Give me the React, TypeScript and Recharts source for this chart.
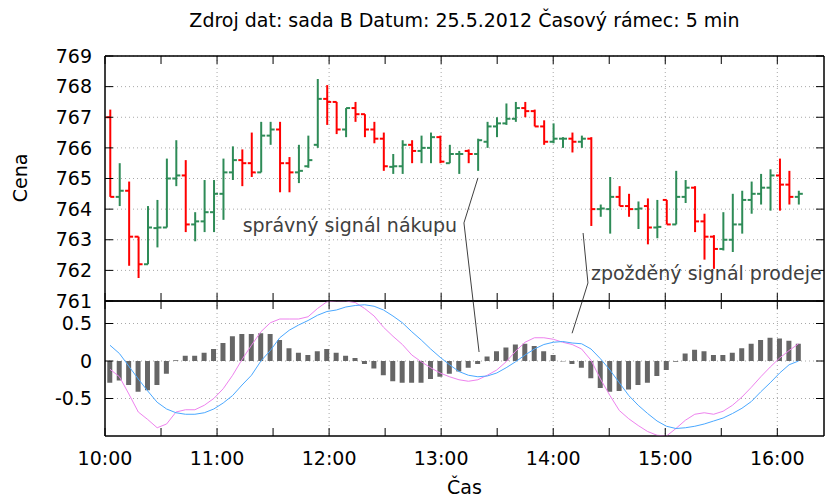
import React from 'react'
import { ComposedChart, Bar, Line, XAxis, YAxis, CartesianGrid, ReferenceLine, ReferenceDot, ReferenceArea } from 'recharts'

const FONT = '"DejaVu Sans", sans-serif'
const FS = 19
const W = 826

// 5 min bars from 10:00
const open = [
  767.0, 764.4, 764.6, 763.1, 762.2, 763.38, 763.4, 765.0, 765.1, 763.5, 763.6, 763.9, 764.5, 765.2, 765.6, 765.5, 765.2, 766.4, 766.6,
  765.5, 765.2, 765.4, 766.1, 767.6, 767.5, 766.6, 767.3, 767.1, 766.6, 766.3, 765.38, 765.4, 766.1, 765.9, 766.0, 766.35, 765.5,
  765.8, 765.9, 765.8, 766.2, 766.7, 766.8, 766.95, 767.3, 767.2, 766.7, 766.2, 766.3, 766.3, 766.2, 766.3, 764.0, 764.0, 764.4,
  764.1, 764.0, 764.1, 763.4, 764.3, 763.5, 764.4, 764.7, 763.6, 763.1, 762.7, 763.0, 763.5, 764.3, 764.5, 764.7, 765.1, 764.8, 764.4,
]
const high = [
  767.25, 765.5, 764.9, 763.1, 764.1, 764.3, 765.65, 766.25, 765.6, 763.9, 764.95, 764.95, 765.65, 766.05, 765.95, 766.5, 766.85, 766.85, 766.85,
  765.7, 766.1, 766.4, 768.25, 768.05, 767.5, 767.3, 767.5, 767.1, 766.85, 766.5, 765.8, 766.25, 766.25, 766.4, 766.5, 766.4, 766.1,
  765.9, 765.95, 766.3, 766.85, 767.0, 767.45, 767.5, 767.5, 767.25, 766.9, 766.8, 766.35, 766.5, 766.4, 766.35, 764.15, 765.05, 764.75,
  764.5, 764.25, 764.35, 764.3, 764.3, 765.25, 764.95, 764.75, 763.85, 763.15, 763.9, 764.5, 764.6, 764.9, 765.15, 765.3, 765.65, 765.25, 764.6,
]
const low = [
  764.4, 764.1, 762.15, 761.75, 762.2, 762.75, 763.4, 764.75, 763.25, 762.95, 763.25, 763.25, 763.65, 764.95, 764.75, 765.05, 765.2, 766.1, 764.55,
  764.55, 764.85, 765.35, 766.0, 766.75, 766.45, 766.35, 766.85, 766.35, 766.15, 765.25, 765.15, 765.15, 765.5, 765.5, 765.5, 765.5, 765.5,
  765.15, 765.5, 765.25, 766.0, 766.35, 766.75, 766.85, 767.0, 766.7, 766.1, 766.15, 766.0, 765.85, 766.0, 763.45, 763.75, 763.2, 764.1,
  763.75, 763.35, 762.85, 763.05, 763.5, 763.5, 764.2, 763.25, 762.35, 762.05, 762.65, 762.6, 763.2, 763.85, 764.15, 763.95, 763.95, 764.15, 764.15,
]
const close = [
  764.4, 764.6, 763.1, 762.2, 763.4, 763.4, 765.0, 765.1, 763.5, 763.6, 763.9, 764.5, 765.2, 765.6, 765.5, 765.2, 766.4, 766.6, 765.5,
  765.2, 765.25, 765.6, 767.6, 767.5, 766.6, 767.3, 767.1, 766.6, 766.3, 765.4, 765.4, 766.1, 765.9, 766.0, 766.35, 765.55, 765.8,
  765.8, 765.8, 766.25, 766.7, 766.8, 766.95, 767.3, 767.2, 766.7, 766.2, 766.3, 766.3, 766.2, 766.3, 764.0, 764.02, 764.4, 764.1,
  764.0, 764.02, 763.4, 763.42, 763.5, 764.4, 764.7, 763.6, 763.1, 762.7, 763.0, 763.5, 764.3, 764.5, 764.7, 765.1, 764.8, 764.4, 764.5,
]

// oscillator panel
const hist = [
  -0.29, -0.26, -0.32, -0.41, -0.39, -0.32, -0.17, 0.01, 0.07, 0.07, 0.11, 0.16, 0.24, 0.33, 0.36, 0.36, 0.37, 0.36, 0.28, 0.17, 0.11, 0.08, 0.13, 0.16,
  0.11, 0.07, 0.04, -0.04, -0.1, -0.19, -0.27, -0.29, -0.29, -0.29, -0.24, -0.21, -0.17, -0.14, -0.09, -0.04, 0.06, 0.13, 0.18, 0.22, 0.23, 0.2, 0.13, 0.08, -0.005,
  -0.04, -0.09, -0.23, -0.36, -0.41, -0.4, -0.38, -0.32, -0.29, -0.2, -0.12, -0.01, 0.1, 0.15, 0.13, 0.08, 0.08, 0.11, 0.17, 0.23, 0.28, 0.31, 0.3, 0.27, 0.23,
]
const fast = [
  -0.11, -0.21, -0.44, -0.68, -0.78, -0.89, -0.84, -0.68, -0.65, -0.65, -0.59, -0.5, -0.37, -0.19, 0.02, 0.21, 0.39, 0.51, 0.56, 0.56, 0.56, 0.59, 0.7, 0.79,
  0.8, 0.8, 0.78, 0.7, 0.6, 0.45, 0.33, 0.22, 0.08, -0.01, -0.09, -0.16, -0.21, -0.25, -0.27, -0.25, -0.19, -0.12, -0.01, 0.13, 0.25, 0.31, 0.31, 0.29, 0.25,
  0.22, 0.16, 0.01, -0.24, -0.46, -0.66, -0.77, -0.86, -0.94, -0.99, -1.0, -0.9, -0.79, -0.71, -0.69, -0.71, -0.67, -0.59, -0.48, -0.35, -0.21, -0.08, 0.04, 0.14, 0.23,
]
const slow = [
  0.21, 0.1, -0.07, -0.24, -0.4, -0.55, -0.64, -0.69, -0.71, -0.71, -0.69, -0.64, -0.56, -0.46, -0.32, -0.19, 0.0, 0.14, 0.31, 0.41, 0.48, 0.54, 0.61, 0.66,
  0.68, 0.72, 0.74, 0.75, 0.73, 0.68, 0.6, 0.51, 0.39, 0.28, 0.16, 0.05, -0.05, -0.14, -0.19, -0.21, -0.2, -0.16, -0.09, -0.01, 0.08, 0.16, 0.22, 0.25, 0.26,
  0.24, 0.23, 0.16, 0.03, -0.12, -0.29, -0.46, -0.59, -0.7, -0.8, -0.87, -0.9, -0.89, -0.87, -0.84, -0.8, -0.76, -0.7, -0.63, -0.54, -0.41, -0.29, -0.16, -0.05, 0.0,
]

const priceTicks = [761, 762, 763, 764, 765, 766, 767, 768, 769]
const oscTicks = [-0.5, 0, 0.5]
const timeTicks = [0, 30, 60, 90, 120, 150, 180, 210, 240, 270, 300, 330, 360] // minutes after 10:00
const hourLines = [60, 120, 180, 240, 300, 360]
const TIME_DOMAIN = [0, 385]
const PRICE_DOMAIN = [761, 769]
const OSC_DOMAIN = [-1, 0.8]
const BAR_DOMAIN = [-0.53, 75.7]

const rows = open.map((o, i) => ({
  i, t: i * 5, o, h: high[i], l: low[i], c: close[i],
  hist: hist[i], fast: fast[i], slow: slow[i],
}))

const hhmm = (m: number) => (m % 60 === 0 ? `${10 + m / 60}:00` : '')
const blank = () => ''
const tickStyle = { fill: '#000', fontSize: FS, fontFamily: FONT }
const labelStyle = { fill: '#404040', fontSize: FS, fontFamily: FONT }

function OhlcBar(props: any) {
  const { x, y, width, height, payload } = props
  const top = Math.min(y, y + height)
  const bot = Math.max(y, y + height)
  const { o, h, l, c } = payload
  const py = (v: number) => (h === l ? top : top + ((h - v) / (h - l)) * (bot - top))
  const cx = x + width / 2
  const col = c >= o ? '#2e8b57' : '#ff0000'
  return (
    <g stroke={col} strokeWidth={2}>
      <line x1={cx} x2={cx} y1={top} y2={bot} />
      <line x1={cx - 4} x2={cx} y1={py(o)} y2={py(o)} />
      <line x1={cx} x2={cx + 4} y1={py(c)} y2={py(c)} />
    </g>
  )
}

function PriceChart() {
  return (
    <ComposedChart width={W} height={320} data={rows} margin={{ top: 46, right: -8, bottom: 18, left: 0 }}>
      <CartesianGrid xAxisId="tb" yAxisId="left" stroke="#a8a8a8" strokeDasharray="1 3"
        horizontalValues={priceTicks} verticalValues={hourLines} />
      <ReferenceArea xAxisId="tb" yAxisId="left" x1={TIME_DOMAIN[0]} x2={TIME_DOMAIN[1]} y1={PRICE_DOMAIN[0]} y2={PRICE_DOMAIN[1]}
        fill="none" stroke="#000" strokeWidth={1} ifOverflow="visible" />
      <XAxis xAxisId="tb" dataKey="t" type="number" domain={TIME_DOMAIN} allowDataOverflow ticks={timeTicks} interval={0}
        height={1} stroke="#000" tickSize={-8} tickFormatter={blank} />
      <XAxis xAxisId="tt" dataKey="t" orientation="top" type="number" domain={TIME_DOMAIN} allowDataOverflow ticks={timeTicks} interval={0}
        height={10} stroke="#000" tickSize={-8} tickFormatter={blank} />
      <XAxis xAxisId="bar" dataKey="i" type="number" domain={BAR_DOMAIN} allowDataOverflow hide height={0} />
      <YAxis yAxisId="left" type="number" domain={PRICE_DOMAIN} allowDataOverflow ticks={priceTicks} interval={0}
        width={105} stroke="#000" tickSize={-8} tickMargin={21} tick={tickStyle} />
      <YAxis yAxisId="right" orientation="right" type="number" domain={PRICE_DOMAIN} allowDataOverflow ticks={priceTicks} interval={0}
        width={10} stroke="#000" tickSize={-8} tickFormatter={blank} />
      <Bar xAxisId="bar" yAxisId="left" dataKey={(d: any) => [d.l, d.h]} barSize={8} shape={OhlcBar} isAnimationActive={false} />

      <ReferenceLine xAxisId="tb" yAxisId="left" ifOverflow="visible" stroke="#404040"
        segment={[{ x: 199.7, y: 765.02 }, { x: 192.2, y: 763.55 }]} />
      <ReferenceLine xAxisId="tb" yAxisId="left" ifOverflow="visible" stroke="#404040"
        segment={[{ x: 192.2, y: 763.55 }, { x: 197.1, y: 761 }]} />
      <ReferenceLine xAxisId="tb" yAxisId="left" ifOverflow="visible" stroke="#404040"
        segment={[{ x: 256.0, y: 763.22 }, { x: 258.6, y: 761.59 }]} />
      <ReferenceLine xAxisId="tb" yAxisId="left" ifOverflow="visible" stroke="#404040"
        segment={[{ x: 258.6, y: 761.59 }, { x: 255.6, y: 761 }]} />

      <ReferenceDot xAxisId="tb" yAxisId="left" x={73.7} y={763.48} r={0} fill="none" stroke="none" ifOverflow="visible"
        label={{ value: 'správný signál nákupu', position: 'right', offset: 0, ...labelStyle }} />
      <ReferenceDot xAxisId="tb" yAxisId="left" x={260.2} y={761.9} r={0} fill="none" stroke="none" ifOverflow="visible"
        label={{ value: 'zpožděný signál prodeje', position: 'right', offset: 0, ...labelStyle }} />
    </ComposedChart>
  )
}

function OscChart() {
  return (
    <ComposedChart width={W} height={208} data={rows} margin={{ top: 0, right: -8, bottom: 0, left: 0 }}>
      <CartesianGrid xAxisId="tb" yAxisId="left" stroke="#a8a8a8" strokeDasharray="1 3"
        horizontalValues={oscTicks} verticalValues={hourLines} />
      <ReferenceArea xAxisId="tb" yAxisId="left" x1={TIME_DOMAIN[0]} x2={TIME_DOMAIN[1]} y1={OSC_DOMAIN[0]} y2={OSC_DOMAIN[1]}
        fill="none" stroke="#000" strokeWidth={1} ifOverflow="visible" />
      <XAxis xAxisId="tb" dataKey="t" type="number" domain={TIME_DOMAIN} allowDataOverflow ticks={timeTicks} interval={0}
        height={63} stroke="#000" tickSize={-8} tickMargin={24} tickFormatter={hhmm} tick={tickStyle} />
      <XAxis xAxisId="tt" dataKey="t" orientation="top" type="number" domain={TIME_DOMAIN} allowDataOverflow ticks={timeTicks} interval={0}
        height={10} stroke="#000" tickSize={-8} tickFormatter={blank} />
      <XAxis xAxisId="bar" dataKey="i" type="number" domain={BAR_DOMAIN} allowDataOverflow hide height={0} />
      <YAxis yAxisId="left" type="number" domain={OSC_DOMAIN} allowDataOverflow ticks={oscTicks} interval={0}
        width={105} stroke="#000" tickSize={-8} tickMargin={21} tick={tickStyle} />
      <YAxis yAxisId="right" orientation="right" type="number" domain={OSC_DOMAIN} allowDataOverflow ticks={oscTicks} interval={0}
        width={10} stroke="#000" tickSize={-8} tickFormatter={blank} />
      <Bar xAxisId="bar" yAxisId="left" dataKey="hist" barSize={5} fill="#666666" isAnimationActive={false} />
      <Line xAxisId="bar" yAxisId="left" dataKey="fast" stroke="#ee82ee" strokeWidth={1} dot={false} type="linear" isAnimationActive={false} />
      <Line xAxisId="bar" yAxisId="left" dataKey="slow" stroke="#4aa8ff" strokeWidth={1} dot={false} type="linear" isAnimationActive={false} />

      <ReferenceLine xAxisId="tb" yAxisId="left" ifOverflow="visible" stroke="#404040"
        segment={[{ x: 197.1, y: 0.8 }, { x: 200.3, y: 0.12 }]} />
      <ReferenceLine xAxisId="tb" yAxisId="left" ifOverflow="visible" stroke="#404040"
        segment={[{ x: 255.6, y: 0.8 }, { x: 250.1, y: 0.37 }]} />
    </ComposedChart>
  )
}

export default function App() {
  return (
    <div style={{ position: 'absolute', left: 0, top: 0, width: W, height: 499, background: '#fff' }}>
      <div style={{ position: 'absolute', left: 0, top: 0 }}>
        <PriceChart />
      </div>
      <div style={{ position: 'absolute', left: 0, top: 291 }}>
        <OscChart />
      </div>
      <svg width={W} height={499} style={{ position: 'absolute', left: 0, top: 0, pointerEvents: 'none' }}
        fontFamily={FONT} fontSize={FS} fill="#000">
        <text x={464.5} y={27} textAnchor="middle">Zdroj dat: sada B Datum: 25.5.2012 Časový rámec: 5 min</text>
        <text transform="translate(27,178) rotate(-90)" textAnchor="middle">Cena</text>
        <text x={464.5} y={494} textAnchor="middle">Čas</text>
      </svg>
    </div>
  )
}
